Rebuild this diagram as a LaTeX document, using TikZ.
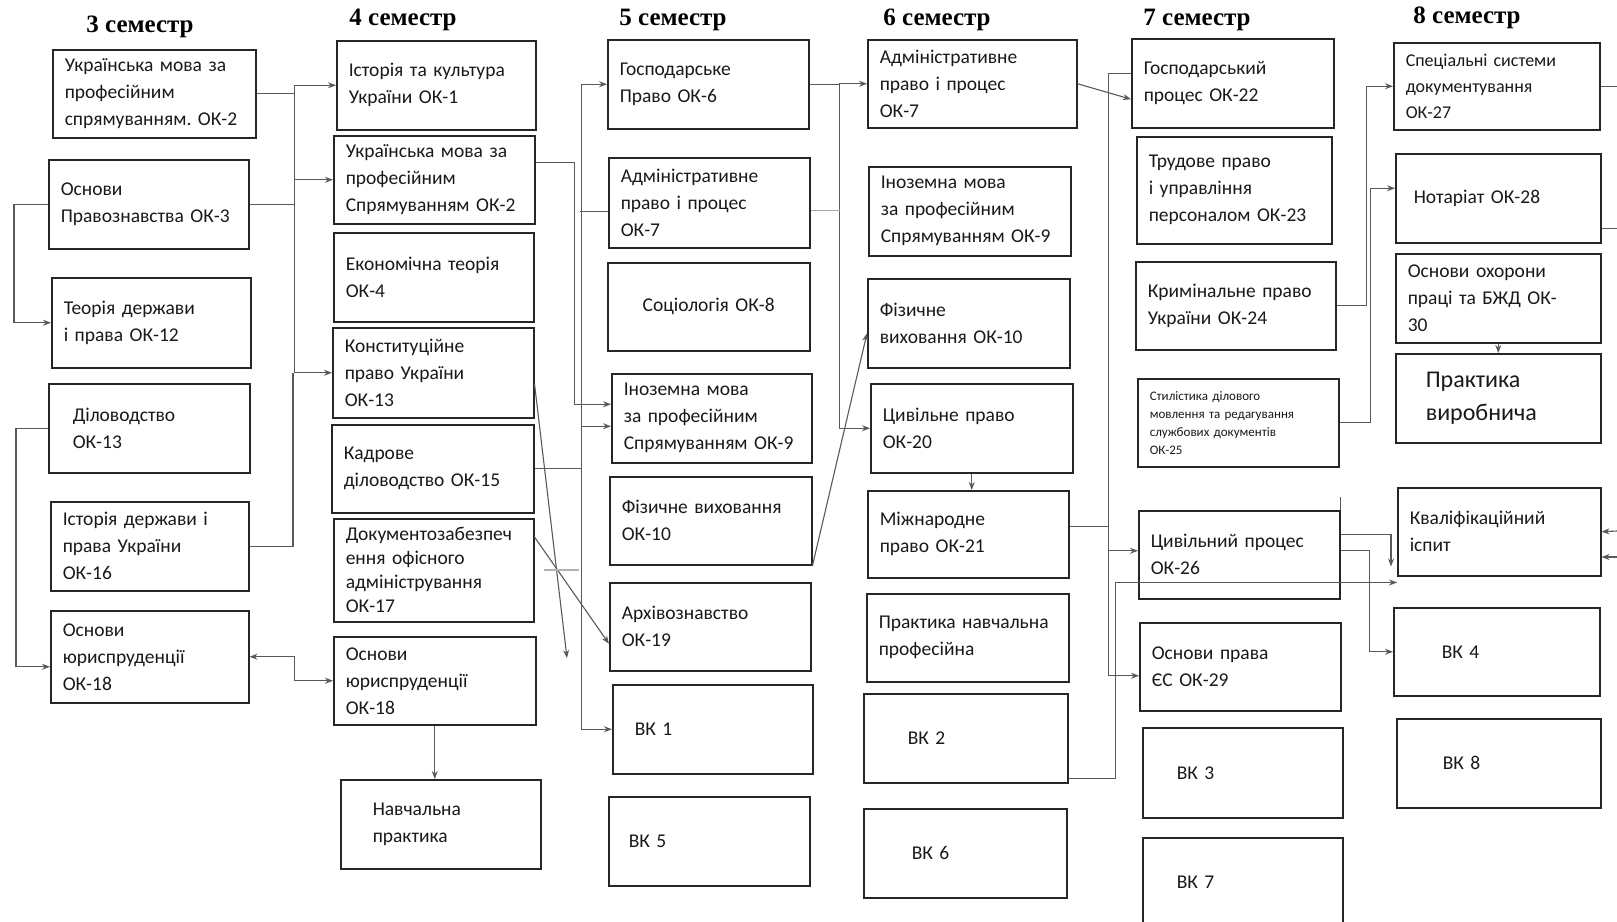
\documentclass[tikz,border=0pt]{standalone}
\usepackage{fontspec}
\setmainfont{Carlito}
\newfontfamily\semfont{Liberation Serif}
\usetikzlibrary{arrows.meta}
\frenchspacing
\def\subj[#1](#2)(#3,#4)(#5,#6)#7{\node[subj, minimum width=#5-#3, text width=#5-#3-24, minimum height=#6-#4, anchor=north west, #1] (#2) at (#3,#4) {#7};}

\tikzset{
	subj/.style={draw=black!85, line width=1.5pt, inner xsep=12pt, inner ysep=4pt, align=left, text=black!90, font=\fontsize{19.5}{27}\selectfont},
	sem/.style={font=\semfont\bfseries\fontsize{25}{30}\selectfont},
	link/.style={draw=black!65, line width=1.1pt},
	arr/.style={link, -{Stealth[length=8pt,width=6pt]}},
	arrtwo/.style={link, {Stealth[length=8pt,width=6pt]}-{Stealth[length=8pt,width=6pt]}}
}

\begin{document}
\begin{tikzpicture}[x=1pt, y=-1pt]
		%%%%% START %%%%%
		\useasboundingbox (0,0) rectangle (1617,921);
		
		\node[sem] (t3) at (140,27) {3 семестр};
		\node[sem] (t4) at (403,20) {4 семестр};
		\node[sem] (t5) at (673,20) {5 семестр};
		\node[sem] (t6) at (937,20) {6 семестр};
		\node[sem] (t7) at (1197,20) {7 семестр};
		\node[sem] (t8) at (1467,18) {8 семестр};
		
		% 3 семестр
		\subj[](u2a)(52,49)(255,137){Українська мова за\\професійним\\спрямуванням. ОК-2}
		\subj[](pr3)(48,159)(248,248){Основи\\Правознавства ОК-3}
		\subj[](td12)(51,277)(250,367){Теорія держави\\і права ОК-12}
		\subj[](dl13)(48,383)(249,472){\hspace*{12pt}Діловодство\\\hspace*{12pt}ОК-13}
		\subj[](id16)(50,501)(248,590){Історія держави і\\права України\\ОК-16}
		\subj[](ur18a)(50,610)(248,702){Основи\\юриспруденції\\ОК-18}
		
		% 4 семестр
		\subj[](ik1)(336,40)(535,129){Історія та культура\\України ОК-1}
		\subj[](u2b)(333,135)(534,223){Українська мова за\\професійним\\Спрямуванням ОК-2}
		\subj[](et4)(333,232)(533,321){Економічна теорія\\ОК-4}
		\subj[](kp13)(332,327)(533,417){Конституційне\\право України\\ОК-13}
		\subj[](kd15)(331,424)(533,512){Кадрове\\діловодство ОК-15}
		\subj[font=\fontsize{19.5}{24}\selectfont](dz17)(333,518)(533,621){Документозабезпеч\\ення офісного\\адміністрування\\ОК-17}
		\subj[](ur18b)(333,636)(535,724){Основи\\юриспруденції\\ОК-18}
		\subj[](np)(340,779)(540,868){\hspace*{20pt}Навчальна\\\hspace*{20pt}практика}
		
		% 5 семестр
		\subj[](gp6)(607,39)(808,128){Господарське\\Право ОК-6}
		\subj[](ap7a)(608,157)(809,247){Адміністративне\\право і процес\\ОК-7}
		\subj[align=center](soc8)(607,262)(809,350){Соціологія ОК-8}
		\subj[](im9a)(611,373)(811,462){Іноземна мова\\за професійним\\Спрямуванням ОК-9}
		\subj[](fv10a)(609,476)(811,564){Фізичне виховання\\ОК-10}
		\subj[](ar19)(609,582)(810,670){Архівознавство\\ОК-19}
		\subj[](vk1)(612,684)(812,773){\hspace*{10pt}ВК 1}
		\subj[](vk5)(608,796)(809,885){\hspace*{8pt}ВК 5}
		
		% 6 семестр
		\subj[](ap7b)(867,39)(1076,127){Адміністративне\\право і процес\\ОК-7}
		\subj[](im9b)(868,166)(1070,255){Іноземна мова\\за професійним\\Спрямуванням ОК-9}
		\subj[](fv10b)(867,278)(1069,367){Фізичне\\виховання ОК-10}
		\subj[](cp20)(870,383)(1072,472){Цивільне право\\ОК-20}
		\subj[](mp21)(867,490)(1068,577){Міжнародне\\право ОК-21}
		\subj[](pnp)(866,593)(1068,681){Практика навчальна\\професійна}
		\subj[](vk2)(863,693)(1067,782){\hspace*{32pt}ВК 2}
		\subj[](vk6)(863,808)(1066,897){\hspace*{36pt}ВК 6}
		
		% 7 семестр
		\subj[](gpr22)(1131,38)(1333,127){Господарський\\процес ОК-22}
		\subj[](tp23)(1136,136)(1331,243){Трудове право\\і управління\\персоналом ОК-23}
		\subj[](kr24)(1135,261)(1335,349){Кримінальне право\\України ОК-24}
		\subj[font=\fontsize{13}{18}\selectfont](st25)(1137,378)(1338,466){Стилістика ділового\\мовлення та редагування\\службових документів\\ОК-25}
		\subj[](cvp26)(1138,510)(1339,598){Цивільний процес\\ОК-26}
		\subj[](es29)(1139,622)(1340,710){Основи права\\ЄС ОК-29}
		\subj[](vk3)(1142,727)(1342,817){\hspace*{22pt}ВК 3}
		\subj[](vk7)(1142,837)(1342,926){\hspace*{22pt}ВК 7}
		
		% 8 семестр
		\subj[font=\fontsize{18}{26}\selectfont](sd27)(1393,42)(1599,129){Спеціальні системи\\документування\\ОК-27}
		\subj[](nt28)(1395,153)(1600,242){\hspace*{6pt}Нотаріат ОК-28}
		\subj[](oh30)(1395,253)(1600,342){Основи охорони\\праці та БЖД ОК-\\30}
		\subj[font=\fontsize{24}{33}\selectfont](pv)(1395,353)(1600,442){\hspace*{18pt}Практика\\\hspace*{18pt}виробнича}
		\subj[](ki)(1397,487)(1600,575){Кваліфікаційний\\іспит}
		\subj[](vk4)(1393,607)(1599,695){\hspace*{36pt}ВК 4}
		\subj[](vk8)(1396,718)(1600,807){\hspace*{34pt}ВК 8}
		
		% links from 3
		\draw[arr] (u2a.east) -- ++(38,0) |- (ik1.west);
		\draw[arr] (u2a.east) -- ++(38,0) |- (u2b.west);
		\draw[arr] (u2a.east) -- ++(38,0) |- (kp13.west);
		\draw[link] (pr3.east) -- ++(45,0);
		\draw[link] (id16.east) -| ([xshift=-39]kp13.west);
		\draw[arr] (pr3.west) -- ++(-34,0) |- (td12.west);
		\draw[arr] (dl13.west) -- ++(-32,0) |- ([yshift=-10]ur18a.west);
		\draw[arrtwo] (ur18a.east) -- ++(45,0) |- (ur18b.west);
		
		% links from 4
		\draw[arr] (ur18b.south) -- (ur18b.south |- np.north);
		\draw[arr] ([yshift=17]u2b.east) -- ++(39,0) |- ([yshift=14]im9a.west);
		\draw[arr] (kd15.east) -- ++(47,0) |- (gp6.west);
		\draw[arr] (kd15.east) -- ++(47,0) |- ([yshift=-8]im9a.west);
		\draw[arr] (kd15.east) -- ++(47,0) |- (vk1.west);
		\draw[link] ([yshift=-9]ap7a.west) -- ++(-28,0);
		\coordinate (kpend) at (567,658);
		\draw[arr] ([yshift=-11]kp13.east) -- (kpend);
		\draw[arr] ([yshift=-19]dz17.north east) -- ([yshift=-17]ar19.west);
		\draw[link, draw=black!30, line width=2pt] ([xshift=9]dz17.east) -- ++(35,0);
		
		% links from 5
		\draw[arr] (gp6.east) -- ++(30,0) |- (ap7b.west);
		\draw[arr] (gp6.east) -- ++(30,0) |- (cp20.west);
		\draw[link, draw=black!35] ([yshift=-8]ap7a.east) -- ++(29,0);
		\draw[arr] (fv10a.south east) -- ([yshift=-10]fv10b.west);
		
		% links from 6
		\draw[arr] (cp20.south) -- (cp20.south |- mp21.north);
		\draw[arr] (ap7b.east) -- ([yshift=-16]gpr22.west);
		\draw[link] ([yshift=8]mp21.east) -- ++(39,0) |- ([yshift=10]gpr22.west);
		\draw[arr] ([yshift=8]mp21.east) -- ++(39,0) |- ([yshift=4]cvp26.west);
		\draw[arr] ([yshift=8]mp21.east) -- ++(39,0) |- ([yshift=-9]es29.west);
		\draw[arr] ([yshift=5]vk2.south east) -- ++(47,0) |- ([yshift=-6]ki.south west);
		
		% links from 7
		\draw[arr] (kr24.east) -- ++(30,0) |- (sd27.west);
		\draw[arr] (st25.east) -- ++(31,0) |- ([yshift=10]nt28.west);
		\draw[arr] ([yshift=20]cvp26.east) -| ([xshift=-6,yshift=10]ki.south west);
		\draw[arr] ([yshift=4]cvp26.east) -- ++(29,0) |- (vk4.west);
		\draw[link] (cvp26.north east) -- ++(0,-13);
		
		% links in 8
		\draw[arr] (oh30.south) -- (pv.north);
		\draw[link] (sd27.east) -- ++(18,0);
		\draw[link] ([yshift=-30]nt28.east) -- ++(17,0);
		\coordinate (kin1) at (1617,531);
		\coordinate (kin2) at (1617,557);
		\draw[arr] (kin1) -- (ki.east);
		\draw[arr] (kin2) -- (kin2 -| ki.east);
		
		%%%%% END %%%%%
\end{tikzpicture}
\end{document}
